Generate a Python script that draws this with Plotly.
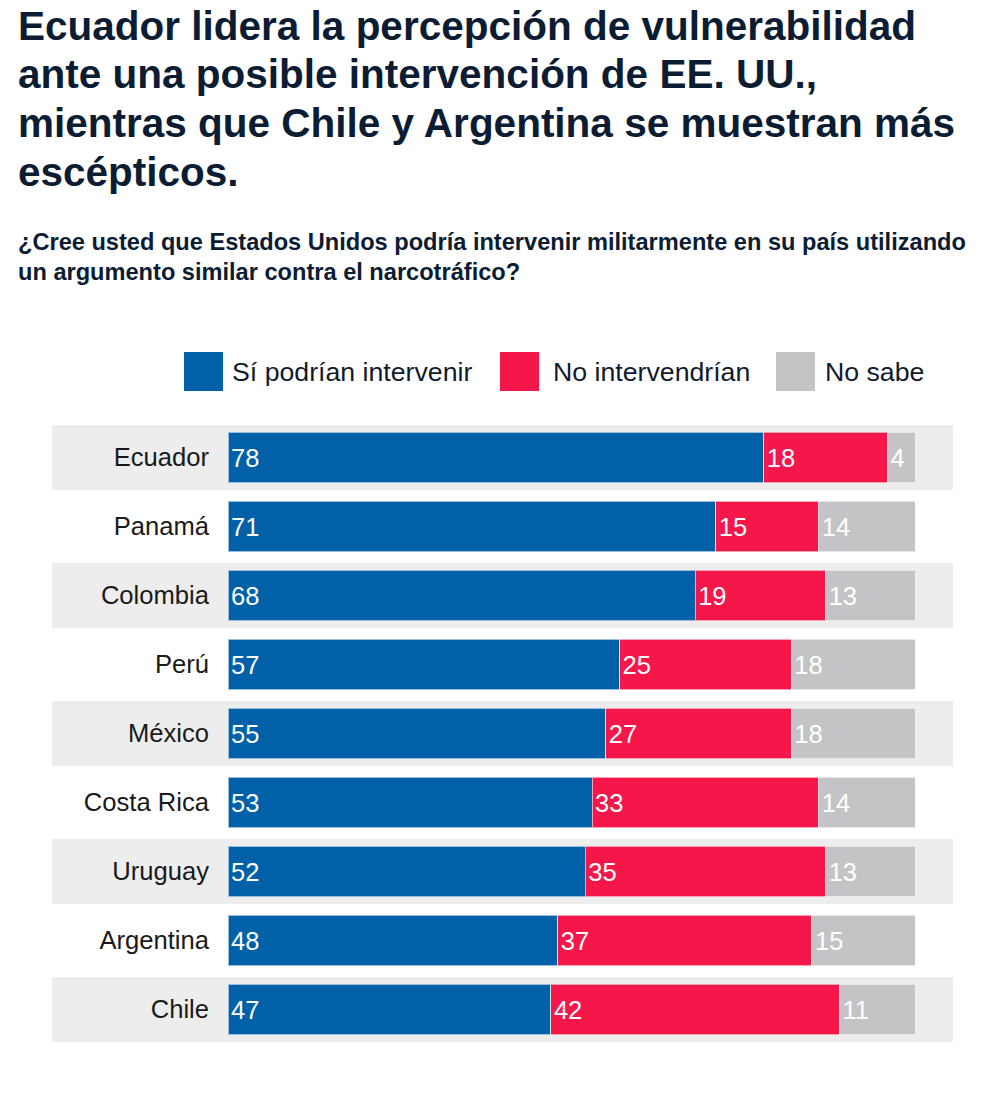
import plotly.graph_objects as go

# ---- data ----
countries = ["Ecuador", "Panamá", "Colombia", "Perú", "México",
             "Costa Rica", "Uruguay", "Argentina", "Chile"]
si_intervenir = [78, 71, 68, 57, 55, 53, 52, 48, 47]
no_intervendrian = [18, 15, 19, 25, 27, 33, 35, 37, 42]
no_sabe = [4, 14, 13, 18, 18, 14, 13, 15, 11]

series_names = ["Sí podrían intervenir", "No intervendrían", "No sabe"]
series_values = [si_intervenir, no_intervendrian, no_sabe]
series_colors = ["#0060A8", "#F5174A", "#C4C4C6"]

title_lines = [
    "Ecuador lidera la percepción de vulnerabilidad",
    "ante una posible intervención de EE. UU.,",
    "mientras que Chile y Argentina se muestran más",
    "escépticos.",
]
subtitle_lines = [
    "¿Cree usted que Estados Unidos podría intervenir militarmente en su país utilizando",
    "un argumento similar contra el narcotráfico?",
]

# ---- layout geometry (page pixels; body margin removed by post_script) ----
W, H = 1000, 1099
L, R = 228, 915          # plot area left/right
T, B = 423, 1044         # plot area top/bottom
PW, PH = R - L, B - T


def px_x(px):
    return (px - L) / PW


def px_y(py):
    return (B - py) / PH


TITLE_COLOR = "#0b1c33"
TEXT_COLOR = "#1a1a1a"
FONT = "Liberation Sans, Arial, Helvetica, sans-serif"

fig = go.Figure()
for name, vals, col in zip(series_names, series_values, series_colors):
    fig.add_trace(go.Bar(
        y=countries, x=vals, name=name, orientation="h",
        marker=dict(color=col, line=dict(color="rgba(255,255,255,0.6)", width=1)),
        width=0.725,
        text=[str(v) for v in vals],
        textposition="inside", insidetextanchor="start", textangle=0,
        textfont=dict(color="white", size=25.5, family=FONT),
        showlegend=False, hoverinfo="skip",
    ))

shapes = []
# alternating background bands
for i, c in enumerate(countries):
    if i % 2 == 0:
        shapes.append(dict(type="rect", xref="paper", yref="y",
                           x0=px_x(52), x1=px_x(953), y0=i - 0.471, y1=i + 0.471,
                           fillcolor="#EDEDED", line=dict(width=0), layer="below"))

annotations = []
# custom legend
legend_sq_x = [184, 500, 776]
legend_tx_x = [232, 553, 825]
for name, col, sx, tx in zip(series_names, series_colors, legend_sq_x, legend_tx_x):
    shapes.append(dict(type="rect", xref="paper", yref="paper",
                       x0=px_x(sx), x1=px_x(sx + 39), y0=px_y(391), y1=px_y(352),
                       fillcolor=col, line=dict(width=0)))
    annotations.append(dict(xref="paper", yref="paper", x=px_x(tx - 2), y=px_y(372),
                            xanchor="left", yanchor="middle", showarrow=False,
                            text=name, font=dict(size=26.7, color="#111a2a", family=FONT)))

# title lines
title_baselines = [39, 87.5, 136, 184.5]
for line, bl in zip(title_lines, title_baselines):
    annotations.append(dict(xref="paper", yref="paper", x=px_x(16), y=px_y(bl - 13),
                            xanchor="left", yanchor="middle", showarrow=False,
                            text="<b>" + line + "</b>",
                            font=dict(size=40.5, color=TITLE_COLOR, family=FONT)))
sub_baselines = [248, 278]
for line, bl in zip(subtitle_lines, sub_baselines):
    annotations.append(dict(xref="paper", yref="paper", x=px_x(16), y=px_y(bl - 6),
                            xanchor="left", yanchor="middle", showarrow=False,
                            text="<b>" + line + "</b>",
                            font=dict(size=23.6, color=TITLE_COLOR, family=FONT)))

fig.update_layout(
    width=W, height=H,
    margin=dict(l=L, r=W - R, t=T, b=H - B, pad=0),
    barmode="stack", bargap=0,
    plot_bgcolor="white", paper_bgcolor="white",
    shapes=shapes, annotations=annotations,
    uniformtext=dict(minsize=25, mode="show"),
    xaxis=dict(visible=False, range=[0, 100], fixedrange=True),
    yaxis=dict(range=[len(countries) - 0.5, -0.5], showgrid=False, zeroline=False,
               showline=False, ticks="", ticklabelstandoff=18, fixedrange=True,
               tickfont=dict(size=25.6, color=TEXT_COLOR, family=FONT)),
    font=dict(family=FONT),
    hovermode=False,
)

fig.write_html(
    "out.html",
    config={"displayModeBar": False, "staticPlot": True},
    post_script="document.body.style.margin='0';document.body.style.overflow='hidden';",
)
